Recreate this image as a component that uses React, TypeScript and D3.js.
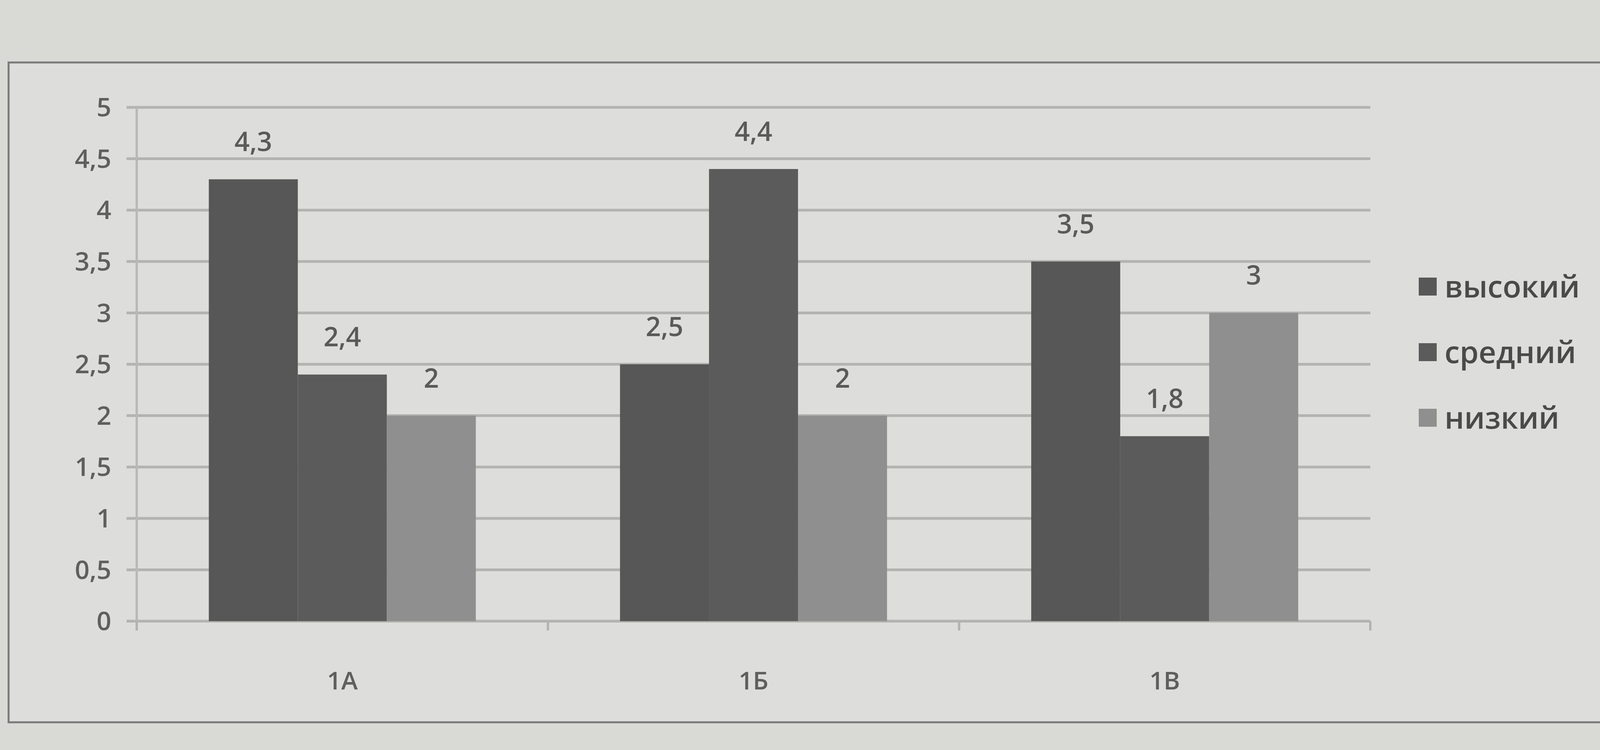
import React from "react";
import * as d3 from "d3";

// chart values
const categories = ["1А", "1Б", "1В"];
const seriesNames = ["высокий", "средний", "низкий"];
const highValues = [4.3, 2.5, 3.5];
const midValues = [2.4, 4.4, 1.8];
const lowValues = [2, 2, 3];
const yTicks = [0, 0.5, 1, 1.5, 2, 2.5, 3, 3.5, 4, 4.5, 5];
const seriesColors = ["#575757", "#5b5b5b", "#8f8f8f"];

const width = 4228;
const height = 1921;
const margin = { top: 275, right: 720, bottom: 330, left: 350 };
const font = "'Open Sans', Lato, sans-serif";

const App: React.FC = () => {
  const series = [highValues, midValues, lowValues];

  const x = d3
    .scaleBand<string>()
    .domain(categories)
    .range([margin.left, width - margin.right])
    .paddingInner(0)
    .paddingOuter(0);

  // bars fill about 65% of each category band
  const xInner = d3
    .scaleBand<string>()
    .domain(seriesNames)
    .range([0, x.bandwidth()])
    .paddingOuter(0.81)
    .paddingInner(0);

  const y = d3
    .scaleLinear()
    .domain([0, 5])
    .range([height - margin.bottom, margin.top]);

  const fmt = (v: number) => String(v).replace(".", ",");

  return (
    <svg
      width={width}
      height={height}
      style={{ position: "absolute", left: 0, top: 0, background: "#d9dad6" }}
    >
      {/* chart frame */}
      <rect
        x={22}
        y={160}
        width={width + 40}
        height={1690}
        fill="#dddedb"
        stroke="#7a7a7a"
        strokeWidth={5}
      />

      {/* gridlines */}
      {yTicks.map((t) => (
        <line
          key={`g${t}`}
          x1={margin.left - 26}
          x2={width - margin.right}
          y1={y(t)}
          y2={y(t)}
          stroke="#b3b3b1"
          strokeWidth={7}
        />
      ))}

      {/* y axis line */}
      <line
        x1={margin.left}
        x2={margin.left}
        y1={y(5)}
        y2={y(0) + 10}
        stroke="#b8b8b6"
        strokeWidth={6}
      />

      {/* x axis tick marks */}
      {[...categories.map((c) => x(c)!), width - margin.right].map((v, i) => (
        <line
          key={`xt${i}`}
          x1={v}
          x2={v}
          y1={y(0)}
          y2={y(0) + 24}
          stroke="#b3b3b1"
          strokeWidth={6}
        />
      ))}

      {/* y tick labels */}
      {yTicks.map((t) => (
        <text
          key={`yl${t}`}
          x={285}
          y={y(t)}
          dy="0.35em"
          textAnchor="end"
          fontFamily={font}
          fontWeight={600}
          fontSize={66}
          fill="#5f5f5f"
        >
          {fmt(t)}
        </text>
      ))}

      {/* bars */}
      {categories.map((c, ci) => (
        <g key={c} transform={`translate(${x(c)},0)`}>
          {seriesNames.map((s, si) => {
            const v = series[si][ci];
            return (
              <g key={s}>
                <rect
                  x={xInner(s)!}
                  y={y(v)}
                  width={xInner.bandwidth()}
                  height={y(0) - y(v)}
                  fill={seriesColors[si]}
                />
                <text
                  x={xInner(s)! + xInner.bandwidth() / 2}
                  y={y(v) - 72}
                  textAnchor="middle"
                  fontFamily={font}
                  fontWeight={600}
                  fontSize={68}
                  fill="#5a5a5a"
                >
                  {fmt(v)}
                </text>
              </g>
            );
          })}
          <text
            x={x.bandwidth() / 2}
            y={y(0) + 175}
            textAnchor="middle"
            fontFamily={font}
            fontWeight={600}
            fontSize={64}
            fill="#5f5f5f"
          >
            {c}
          </text>
        </g>
      ))}

      {/* legend */}
      {seriesNames.map((s, i) => (
        <g key={`lg${s}`} transform={`translate(3632, ${735 + i * 168})`}>
          <rect x={0} y={-24} width={46} height={46} fill={seriesColors[i]} />
          <text
            x={66}
            y={0}
            dy="0.35em"
            fontFamily={font}
            fontWeight={600}
            fontSize={78}
            fill="#4a4a4a"
          >
            {s}
          </text>
        </g>
      ))}
    </svg>
  );
};

export default App;
